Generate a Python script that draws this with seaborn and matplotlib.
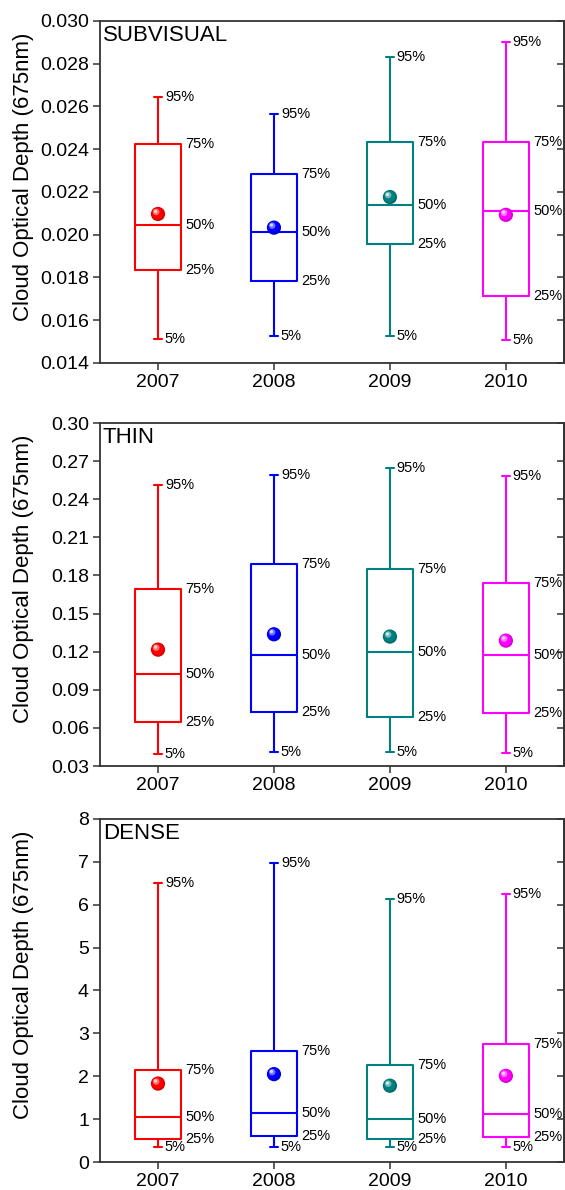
import numpy as np
import pandas as pd
import matplotlib
matplotlib.use("Agg")
import matplotlib.pyplot as plt
import matplotlib.transforms as mtransforms
from matplotlib.colors import to_rgb
import seaborn as sns

years = ["2007", "2008", "2009", "2010"]
colors = ["#FF0000", "#0000FF", "#008080", "#FF00FF"]
pct_names = ["5%", "25%", "50%", "75%", "95%"]

sub_p5 = [0.01514, 0.01528, 0.01526, 0.01509]
sub_p25 = [0.01836, 0.01785, 0.01955, 0.01712]
sub_p50 = [0.02044, 0.02011, 0.02137, 0.02109]
sub_p75 = [0.02425, 0.02282, 0.02433, 0.02436]
sub_p95 = [0.02645, 0.02565, 0.02833, 0.02900]
sub_mean = [0.02097, 0.02033, 0.02176, 0.02093]

thin_p5 = [0.0397, 0.0407, 0.0407, 0.0400]
thin_p25 = [0.0644, 0.0728, 0.0688, 0.0715]
thin_p50 = [0.1022, 0.1172, 0.1198, 0.1174]
thin_p75 = [0.1692, 0.1892, 0.1849, 0.1739]
thin_p95 = [0.2509, 0.2593, 0.2643, 0.2580]
thin_mean = [0.1216, 0.1337, 0.1319, 0.1287]

dense_p5 = [0.34, 0.34, 0.34, 0.36]
dense_p25 = [0.545, 0.61, 0.54, 0.58]
dense_p50 = [1.05, 1.14, 1.00, 1.13]
dense_p75 = [2.14, 2.60, 2.26, 2.75]
dense_p95 = [6.50, 6.98, 6.13, 6.25]
dense_mean = [1.83, 2.05, 1.78, 2.01]

panel_titles = ["SUBVISUAL", "THIN", "DENSE"]
ylabel = "Cloud Optical Depth (675nm)"

sns.set_style("ticks")
plt.rcParams["font.family"] = ["Liberation Sans", "DejaVu Sans"]
plt.rcParams["text.color"] = "black"
plt.rcParams["axes.labelcolor"] = "black"
plt.rcParams["xtick.color"] = "black"
plt.rcParams["ytick.color"] = "black"

fig = plt.figure(figsize=(5.65, 11.9), dpi=100)

spine_color = "#333333"


def lighten(c, f):
    r, g, b = to_rgb(c)
    return (r + (1 - r) * f, g + (1 - g) * f, b + (1 - b) * f)


def darken(c, f):
    r, g, b = to_rgb(c)
    return (r * (1 - f), g * (1 - f), b * (1 - f))


def draw_panel(rect, p5, p25, p50, p75, p95, mean, title, ylim, ticks, fmt):
    ax = fig.add_axes(rect)
    rows = []
    for i, y in enumerate(years):
        for v in (p5[i], p25[i], p50[i], p75[i], p95[i]):
            rows.append({"year": y, "value": v})
    df = pd.DataFrame(rows)
    sns.boxplot(data=df, x="year", y="value", hue="year", order=years,
                hue_order=years, palette=colors, fill=False, whis=(0, 100),
                width=0.4, linewidth=1.5, legend=False, ax=ax,
                capwidths=0.07)
    pos = np.arange(len(years))
    # sphere-like mean markers
    sns.scatterplot(x=pos, y=mean, hue=years,
                    palette=[darken(c, 0.15) for c in colors], s=105,
                    linewidth=0, legend=False, ax=ax, zorder=5)
    off0 = mtransforms.offset_copy(ax.transData, fig=fig, x=-0.5, y=0.6, units="dots")
    off1 = mtransforms.offset_copy(ax.transData, fig=fig, x=-1.8, y=2.0, units="dots")
    off2 = mtransforms.offset_copy(ax.transData, fig=fig, x=-2.4, y=2.6, units="dots")
    ax.scatter(pos, mean, s=70, color=colors, linewidth=0, zorder=6, transform=off0)
    ax.scatter(pos, mean, s=22, color=[lighten(c, 0.45) for c in colors],
               linewidth=0, zorder=7, transform=off1)
    ax.scatter(pos, mean, s=5, color=[lighten(c, 0.85) for c in colors],
               linewidth=0, zorder=8, transform=off2)

    for i in range(len(years)):
        for name, v in (("5%", p5[i]), ("95%", p95[i])):
            ax.annotate(name, xy=(i, v), xytext=(5, 0), textcoords="offset points",
                        va="center", ha="left", fontsize=10.5, color="black")
        for name, v in (("25%", p25[i]), ("50%", p50[i]), ("75%", p75[i])):
            ax.annotate(name, xy=(i + 0.2, v), xytext=(3, 0), textcoords="offset points",
                        va="center", ha="left", fontsize=10.5, color="black")

    ax.set_xlim(-0.5, 3.5)
    ax.set_ylim(*ylim)
    ax.set_yticks(ticks)
    ax.set_yticklabels([fmt.format(t) for t in ticks])
    ax.set_xticks(pos)
    ax.set_xticklabels(years)
    ax.set_xlabel("")
    ax.set_ylabel(ylabel, fontsize=16)
    ax.yaxis.set_label_coords(-0.143, 0.545)
    ax.tick_params(axis="both", direction="out", length=5, width=1.1,
                   labelsize=14, color=spine_color, labelcolor="black", pad=3)
    for s in ax.spines.values():
        s.set_visible(True)
        s.set_color(spine_color)
        s.set_linewidth(1.3)
    sec = ax.secondary_yaxis("right")
    sec.set_yticks(ticks)
    sec.set_yticklabels([])
    sec.tick_params(direction="in", length=5, width=1.1, color=spine_color)
    sec.spines["right"].set_color(spine_color)
    sec.spines["right"].set_linewidth(1.3)
    ax.text(0.006, 0.988, title, transform=ax.transAxes, ha="left", va="top",
            fontsize=16, color="black")
    return ax


draw_panel([0.177, 0.695, 0.821, 0.2874], sub_p5, sub_p25, sub_p50, sub_p75,
           sub_p95, sub_mean, panel_titles[0], (0.014, 0.030),
           np.arange(0.014, 0.0301, 0.002), "{:.3f}")
draw_panel([0.177, 0.3563, 0.821, 0.2882], thin_p5, thin_p25, thin_p50, thin_p75,
           thin_p95, thin_mean, panel_titles[1], (0.03, 0.30),
           np.arange(0.03, 0.301, 0.03), "{:.2f}")
draw_panel([0.177, 0.0235, 0.821, 0.2883], dense_p5, dense_p25, dense_p50, dense_p75,
           dense_p95, dense_mean, panel_titles[2], (0, 8),
           np.arange(0, 9, 1), "{:.0f}")

fig.savefig("out.png", dpi=100)
